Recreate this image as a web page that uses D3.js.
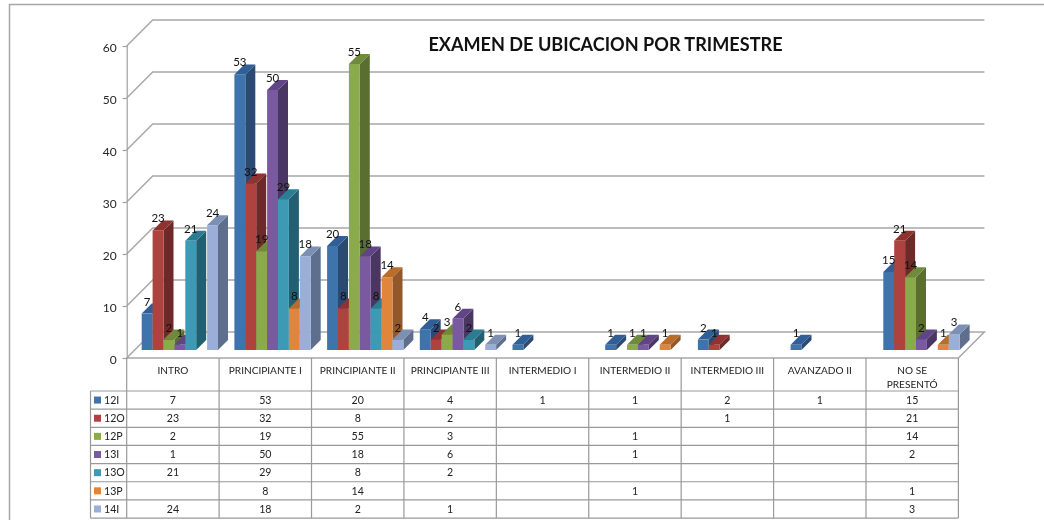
<!DOCTYPE html>
<meta charset="utf-8">
<style>
html, body { margin: 0; background: #fff; }
svg { display: block; filter: blur(0.4px); }
text { font-family: Lato, sans-serif; }
.grid { stroke: #a8a8a8; stroke-width: 1.5px; fill: none; }
.frame { stroke: #a6a6a6; stroke-width: 1.5px; fill: none; }
.cell { stroke: #999; stroke-width: 1.2px; fill: none; }
.yaxis text { font-size: 12px; fill: #262626; }
.yaxis path, .yaxis line { stroke: #a0a0a0; stroke-width: 1.2px; }
.label { font-size: 11.5px; fill: #111; text-anchor: middle; }
.tbl { font-size: 10.6px; fill: #222; text-anchor: middle; }
.head { font-size: 10.1px; }
.title { font-size: 18.1px; font-weight: 700; fill: #111; text-anchor: middle; }
</style>
<svg width="1044" height="520"></svg>
<script src="https://cdnjs.cloudflare.com/ajax/libs/d3/7.8.5/d3.min.js"></script>
<script>

var categories = ["INTRO", "PRINCIPIANTE I", "PRINCIPIANTE II", "PRINCIPIANTE III", "INTERMEDIO I",
  "INTERMEDIO II", "INTERMEDIO III", "AVANZADO II", "NO SE PRESENTÓ"];
var seriesNames = ["12I", "12O", "12P", "13I", "13O", "13P", "14I"];

// null = empty cell in the table
var s12I = [7, 53, 20, 4, 1, 1, 2, 1, 15];
var s12O = [23, 32, 8, 2, null, null, 1, null, 21];
var s12P = [2, 19, 55, 3, null, 1, null, null, 14];
var s13I = [1, 50, 18, 6, null, 1, null, null, 2];
var s13O = [21, 29, 8, 2, null, null, null, null, null];
var s13P = [null, 8, 14, null, null, 1, null, null, 1];
var s14I = [24, 18, 2, 1, null, null, null, null, 3];
var yTicks = [0, 10, 20, 30, 40, 50, 60];

var allSeries = [s12I, s12O, s12P, s13I, s13O, s13P, s14I];

var frontCol = ["#3f73ab", "#ae423e", "#8aaa4c", "#7a5a9e", "#3c9ab5", "#e0853a", "#9aaed8"];
var topCol = ["#2f5f96", "#8e3330", "#6f8a3a", "#5f4585", "#2b7d93", "#b96d2b", "#7c90b4"];
var sideCol = ["#2b4a73", "#6e2a28", "#5a6e32", "#4a3662", "#225f70", "#93582a", "#5e6f8e"];

var svg = d3.select("svg");

var wall = 26;    // depth of the floor, px
var inset = 8;    // bars sit this far back on the floor
var depth = 10;   // depth of a bar

var x = d3.scaleBand().domain(categories).range([126.7, 958.4]);
// bars run a touch wider than the table columns
var xb = d3.scaleBand().domain(categories).range([126.5, 960.8]);
var xs = d3.scaleBand().domain(seriesNames).range([15.2, 91.5]);
var y = d3.scaleLinear().domain([0, 60]).range([358, 46]);

// outer frame
svg.append("path").attr("class", "frame").attr("d", "M9.5,520V4.5H1044");

// back wall and side wall
svg.append("g").selectAll("path")
    .data(yTicks.slice(1))
  .enter().append("path")
    .attr("class", "grid")
    .attr("d", function(d) {
      return "M126.7," + y(d) + "L" + (126.7 + wall) + "," + (y(d) - wall) + "H" + (958.4 + wall);
    });

// floor
svg.append("path").attr("class", "grid")
    .attr("d", "M126.7,358L" + (126.7 + wall) + "," + (358 - wall) + "H" + (958.4 + wall) + "L958.4,358Z");

var yAxis = svg.append("g")
    .attr("class", "yaxis")
    .attr("transform", "translate(126.7,0)")
    .call(d3.axisLeft(y).tickValues(yTicks).tickSize(4).tickPadding(6));
yAxis.selectAll("text").attr("dy", "0.45em");

// bars, left to right so each front covers the side of the bar before it
var bars = svg.append("g");
categories.forEach(function(c, i) {
  allSeries.forEach(function(vals, k) {
    var v = vals[i];
    if (v === null) return;
    var l = xb(c) + xs(seriesNames[k]);
    var w = xs.bandwidth();
    var b = y(0) - inset;
    var t = y(v) - inset;
    bars.append("path").attr("fill", sideCol[k])
        .attr("d", "M" + (l + w) + "," + b + "l" + depth + "," + (-depth) + "V" + (t - depth) + "l" + (-depth) + "," + depth + "Z");
    bars.append("path").attr("fill", topCol[k])
        .attr("d", "M" + l + "," + t + "l" + depth + "," + (-depth) + "h" + w + "l" + (-depth) + "," + depth + "Z");
    bars.append("rect").attr("fill", frontCol[k])
        .attr("x", l).attr("y", t).attr("width", w).attr("height", b - t);
  });
});

// value labels on top of all bars
categories.forEach(function(c, i) {
  allSeries.forEach(function(vals, k) {
    var v = vals[i];
    if (v === null) return;
    svg.append("text").attr("class", "label")
        .attr("x", xb(c) + xs(seriesNames[k]) + xs.bandwidth() / 2)
        .attr("y", y(v) - inset - 12)
        .attr("dy", "0.35em")
        .text(v);
  });
});

svg.append("text").attr("class", "title").attr("x", 605.5).attr("y", 45).attr("dy", "0.35em")
    .text("EXAMEN DE UBICACION POR TRIMESTRE");

// data table under the chart
var headTop = 358, rowTop = 391, rowH = 18.15;
var rows = d3.scaleBand().domain(seriesNames).range([rowTop, rowTop + 7 * rowH]);
var table = svg.append("g");

x.domain().forEach(function(c) {
  table.append("path").attr("class", "cell").attr("d", "M" + x(c) + "," + headTop + "V" + (rowTop + 7 * rowH));
});
table.append("path").attr("class", "cell").attr("d", "M958.4," + headTop + "V" + (rowTop + 7 * rowH));
table.append("path").attr("class", "cell").attr("d", "M90.5," + rowTop + "V" + (rowTop + 7 * rowH));
d3.range(8).forEach(function(r) {
  table.append("path").attr("class", "cell").attr("d", "M90.5," + (rowTop + r * rowH) + "H958.4");
});

categories.forEach(function(c) {
  var cx = x(c) + x.bandwidth() / 2;
  if (c === "NO SE PRESENTÓ") {
    table.append("text").attr("class", "tbl head").attr("x", cx).attr("y", 370).attr("dy", "0.35em").text("NO SE");
    table.append("text").attr("class", "tbl head").attr("x", cx).attr("y", 384).attr("dy", "0.35em").text("PRESENTÓ");
  } else {
    table.append("text").attr("class", "tbl head").attr("x", cx).attr("y", 370).attr("dy", "0.35em").text(c);
  }
});

seriesNames.forEach(function(s, k) {
  var cy = rows(s) + rows.bandwidth() / 2;
  table.append("rect").attr("x", 94).attr("y", cy - 3.5).attr("width", 7).attr("height", 7).attr("fill", frontCol[k]);
  table.append("text").attr("class", "tbl").attr("x", 104).attr("y", cy).attr("dy", "0.35em")
      .style("text-anchor", "start").text(s);
  categories.forEach(function(c, i) {
    var v = allSeries[k][i];
    if (v === null) return;
    table.append("text").attr("class", "tbl")
        .attr("x", x(c) + x.bandwidth() / 2).attr("y", cy).attr("dy", "0.35em").text(v);
  });
});

</script>
